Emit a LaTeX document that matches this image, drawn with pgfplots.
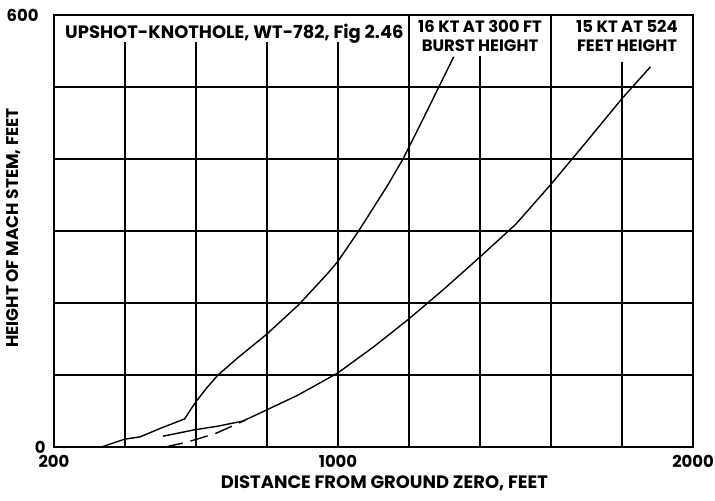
\documentclass[border=0pt]{standalone}
\usepackage{fontspec}
\setmainfont{Poppins}
\usepackage{pgfplots}
\pgfplotsset{compat=1.18}

\newcommand{\lbl}{\bfseries\fontsize{16.5}{18}\selectfont}
\newcommand{\ttl}{\bfseries\fontsize{18}{20}\selectfont}

\begin{document}
\begin{tikzpicture}
\begin{axis}[
    width=639bp, height=432bp, scale only axis,
    xmin=200, xmax=2000, ymin=0, ymax=600,
    xtick={200,1000,2000}, ytick={0,600},
    yticklabels={0,{600\hspace*{7bp}}},
    major tick length=0pt,
    axis line style={line width=2bp},
    tick label style={font=\lbl},
    /pgf/number format/assume math mode=true,
    /pgf/number format/1000 sep={},
    xticklabel style={yshift=-5bp},
    yticklabel style={xshift=-5bp},
    xlabel={DISTANCE FROM GROUND ZERO, FEET},
    ylabel={HEIGHT OF MACH STEM, FEET},
    every axis x label/.style={at={(axis description cs:0.517,-0.097)}, anchor=base, font=\ttl},
    every axis y label/.style={at={(axis description cs:-0.064,0.507)}, anchor=center, rotate=90, font=\bfseries\fontsize{17}{19}\selectfont},
    clip=false,
]
    % grid, with the header strip left open
    \draw[line width=1.8bp] (axis cs:200,100) -- (axis cs:2000,100);
    \draw[line width=1.8bp] (axis cs:200,200) -- (axis cs:2000,200);
    \draw[line width=1.8bp] (axis cs:200,300) -- (axis cs:2000,300);
    \draw[line width=1.8bp] (axis cs:200,400) -- (axis cs:2000,400);
    \draw[line width=1.8bp] (axis cs:200,500) -- (axis cs:2000,500);
    \draw[line width=1.8bp] (axis cs:400,0) -- (axis cs:400,562);
    \draw[line width=1.8bp] (axis cs:600,0) -- (axis cs:600,562);
    \draw[line width=1.8bp] (axis cs:800,0) -- (axis cs:800,562);
    \draw[line width=1.8bp] (axis cs:1000,0) -- (axis cs:1000,562);
    \draw[line width=1.8bp] (axis cs:1200,0) -- (axis cs:1200,600);
    \draw[line width=1.8bp] (axis cs:1400,0) -- (axis cs:1400,543);
    \draw[line width=1.8bp] (axis cs:1600,0) -- (axis cs:1600,600);
    \draw[line width=1.8bp] (axis cs:1800,0) -- (axis cs:1800,535);

    % 16 KT at 300 ft burst height
    \addplot[black, line width=1.4bp, mark=none] coordinates {
        (333,0) (400,11) (442,14) (500,26) (568,39) (585,52) (600,63)
        (630,82) (662,100) (718,124) (800,157) (890,198) (969,240)
        (1000,258) (1058,300) (1138,362) (1183,400) (1234,450)
        (1284,500) (1326,542)
    };
    % 15 KT at 524 feet height
    \addplot[black, line width=1.4bp, mark=none] coordinates {
        (507,15) (597,24) (662,29) (732,36) (797,51) (887,72) (1000,103)
        (1100,139) (1200,178) (1300,220) (1400,264) (1500,309)
        (1600,365) (1700,424) (1800,484) (1880,528)
    };
    % dashed branch
    \addplot[black, line width=1.4bp, mark=none, dash pattern=on 18bp off 8bp] coordinates {
        (513,0) (577,7) (656,19) (738,37)
    };

    \node[anchor=base west, inner sep=0, font=\ttl] at (axis cs:231,568) {UPSHOT-KNOTHOLE, WT-782, Fig 2.46};
    \node[anchor=base, inner sep=0, font=\lbl] at (axis cs:1400,575) {16 KT AT 300 FT};
    \node[anchor=base, inner sep=0, font=\lbl] at (axis cs:1400,549) {BURST HEIGHT};
    \node[anchor=base, inner sep=0, font=\lbl] at (axis cs:1814,575) {15 KT AT 524};
    \node[anchor=base, inner sep=0, font=\lbl] at (axis cs:1814,549) {FEET HEIGHT};

    \coordinate (bl) at (rel axis cs:-0.0845,-0.1227);
    \coordinate (tr) at (rel axis cs:1.0344,1.0347);
\end{axis}
\pgfresetboundingbox
\useasboundingbox (bl) rectangle (tr);
\end{tikzpicture}
\end{document}
